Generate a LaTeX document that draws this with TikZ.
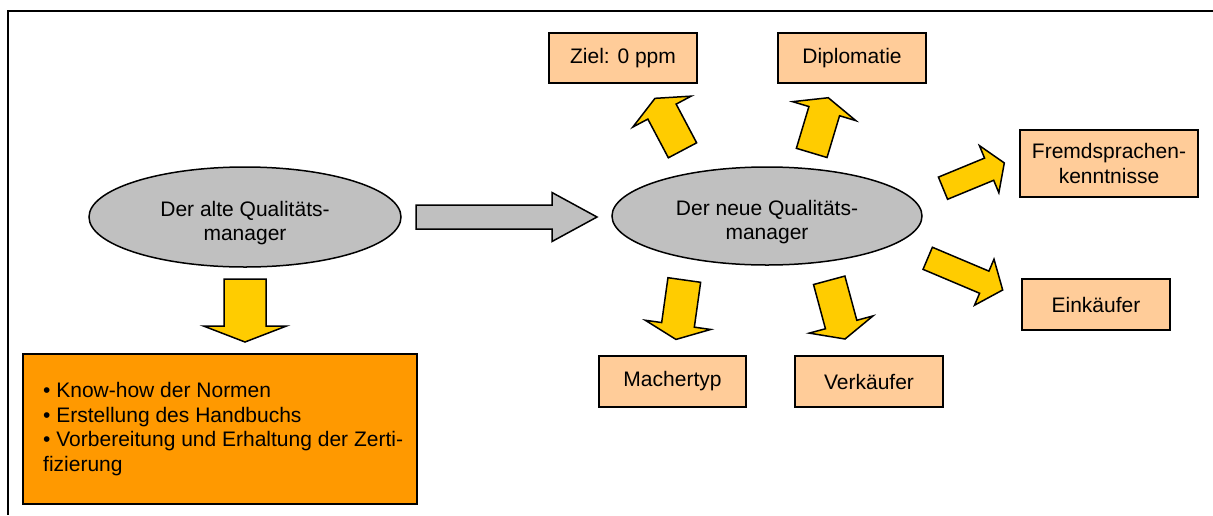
\documentclass[tikz,border=0pt]{standalone}
\usepackage{fontspec}
\setmainfont{Liberation Sans}
\usetikzlibrary{shapes.geometric}
\definecolor{lightor}{HTML}{FFCC99}
\definecolor{orfill}{HTML}{FF9900}
\definecolor{yel}{HTML}{FFCC00}
\definecolor{grayfill}{HTML}{C0C0C0}
\newcommand{\blockarr}[8]{%
  \begin{scope}[shift={(#1,#2)}, rotate=#3]
    \draw[#8] (0,{-#5/2}) -- ({#4-#7},{-#5/2}) -- ({#4-#7},{-#6/2}) -- (#4,0)
      -- ({#4-#7},{#6/2}) -- ({#4-#7},{#5/2}) -- (0,{#5/2}) -- cycle;
  \end{scope}}
\tikzset{
  box/.style={draw=black, line width=1.5pt, fill=lightor, inner sep=0pt, align=center},
  oval/.style={ellipse, draw=black, line width=1.5pt, fill=grayfill, inner sep=0pt},
  otext/.style={align=center, inner sep=0pt},
  yarrow/.style={draw=black, line width=1.5pt, fill=yel},
  garrow/.style={draw=black, line width=1.5pt, fill=grayfill},
  frame/.style={draw=black, line width=2pt},
}
\begin{document}
\begin{tikzpicture}[x=1pt, y=1pt, yscale=-1, font=\fontsize{21}{24.5}\selectfont]
\useasboundingbox (0,0) rectangle (1213,515);
% frame
\draw[frame] (1213,11) -- (8,11) -- (8,515);
% ellipses
\node[oval, minimum width=312pt, minimum height=100pt] (old) at (245,217) {};
\node[otext] (oldt) at (245,223) {Der alte Qualitäts-\\manager};
\node[oval, minimum width=310pt, minimum height=98pt] (new) at (767,216) {};
\node[otext] (newt) at (767,222) {Der neue Qualitäts-\\manager};
% boxes
\node[box, minimum width=148pt, minimum height=50pt] (ziel) at (623,58) {Ziel: 0 ppm};
\node[box, minimum width=148pt, minimum height=50pt] (dipl) at (852,58) {Diplomatie};
\node[box, minimum width=178pt, minimum height=67pt] (fremd) at (1109,163.5) {Fremdsprachen-\\kenntnisse};
\node[box, minimum width=148pt, minimum height=51pt] (eink) at (1096,304.5) {Einkäufer};
\node[box, minimum width=147pt, minimum height=51pt] (mach) at (672.5,381.5) {Machertyp};
\node[box, minimum width=148pt, minimum height=51pt] (verk) at (869,381.5) {Verkäufer};
\node[box, fill=orfill, minimum width=394pt, minimum height=150pt] (know) at (220,429) {};
\node[otext, align=left, anchor=west] (knowt) at (43,429)
  {• Know-how der Normen\\• Erstellung des Handbuchs\\• Vorbereitung und Erhaltung der Zerti-\\fizierung};
% arrows
\blockarr{416}{217}{0}{181}{24}{49}{45}{garrow}
\blockarr{245}{279}{90}{63}{42}{83}{16}{yarrow}
\blockarr{682.5}{150.3}{-117.9}{58.8}{32}{66}{15}{yarrow}
\blockarr{811.7}{152.9}{-73.3}{57.6}{32}{66}{14}{yarrow}
\blockarr{943}{188.2}{-22.4}{66.3}{24}{51}{16.4}{yarrow}
\blockarr{927.7}{258.3}{22.9}{81.4}{24}{50}{20}{yarrow}
\blockarr{684.3}{280}{98}{60}{33}{66}{14.7}{yarrow}
\blockarr{829.2}{280.3}{74.9}{60.8}{32.5}{66}{15}{yarrow}
\end{tikzpicture}
\end{document}
